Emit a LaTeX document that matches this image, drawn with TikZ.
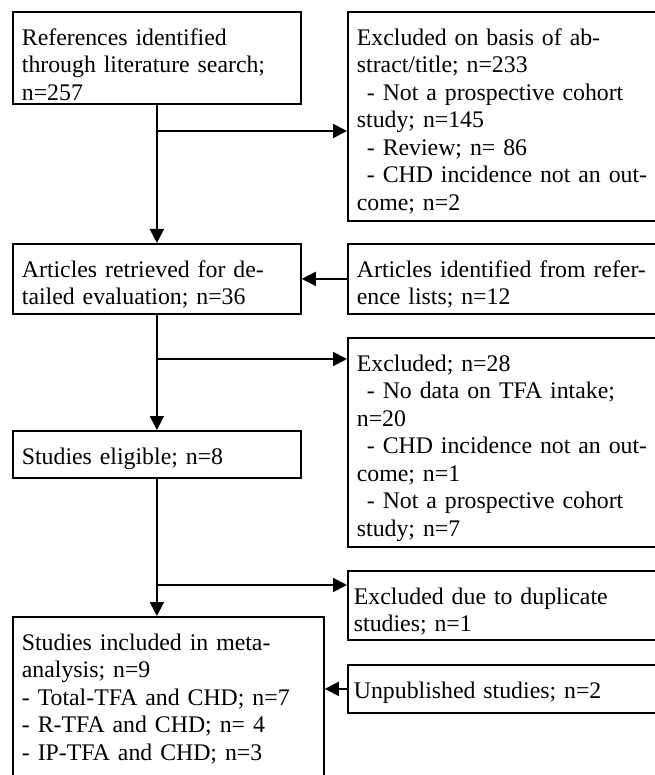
\documentclass[tikz,border=0pt]{standalone}
\usepackage{fontspec}
\setmainfont{Liberation Serif}
\usepackage{tikz}
\usetikzlibrary{arrows.meta,positioning,calc}

\begin{document}
\begin{tikzpicture}[
  x=1pt, y=-1pt,
  box/.style={draw,line width=1.8pt,anchor=north west,align=left,
              inner xsep=9pt,inner ysep=0pt,text height=33.5pt,
              font=\fontsize{23.8}{27.5}\selectfont},
  arr/.style={line width=1.8pt,-{Triangle[length=14pt,width=14pt]}},
  ln/.style={line width=1.8pt}
]
\useasboundingbox (0,0) rectangle (654,775);

%% ── Left column: main flow ───────────────────────────────────────────────────
\node[box,text width=270pt,text depth=58.5pt]  (ref)  at (12,11)
  {References identified\\through literature search;\\n=257};
\node[box,text width=270pt,text depth=36.5pt]  (art)  at (12,243)
  {Articles retrieved for de-\\tailed evaluation; n=36};
\node[box,text width=270pt,text depth=13.5pt]  (elig) at (12,430)
  {Studies eligible; n=8};
\node[box,text width=293pt,text depth=141.5pt] (incl) at (12,616)
  {Studies included in meta-\\analysis; n=9\\- Total-TFA and CHD; n=7\\
   - R-TFA and CHD; n= 4\\- IP-TFA and CHD; n=3};

%% ── Right column: side boxes ─────────────────────────────────────────────────
\node[box,text width=299pt,text depth=175.5pt] (exab) at (347,11)
  {Excluded on basis of ab-\\stract/title; n=233\\
   \hspace*{10pt}- Not a prospective cohort\\study; n=145\\
   \hspace*{10pt}- Review; n= 86\\
   \hspace*{10pt}- CHD incidence not an out-\\come; n=2};
\node[box,text width=299pt,text depth=36.5pt]  (lst)  at (347,243)
  {Articles identified from refer-\\ence lists; n=12};
\node[box,text width=299pt,text depth=175.5pt] (exdt) at (347,337)
  {Excluded; n=28\\
   \hspace*{10pt}- No data on TFA intake;\\n=20\\
   \hspace*{10pt}- CHD incidence not an out-\\come; n=1\\
   \hspace*{10pt}- Not a prospective cohort\\study; n=7};
\node[box,inner xsep=6pt,text width=305pt,text depth=35.5pt] (exdup) at (347,570)
  {Excluded due to duplicate\\studies; n=1};
\node[box,inner xsep=6pt,text width=305pt,text depth=14.5pt] (unpub) at (347,664)
  {Unpublished studies; n=2};

%% ── Branch points on the trunk ───────────────────────────────────────────────
\coordinate (b1) at (156,131);
\coordinate (b2) at (156,359);
\coordinate (b3) at (156,585);

%% ── Trunk arrows ─────────────────────────────────────────────────────────────
\draw[arr] (ref.south)  -- (art.north);
\draw[arr] (art.south)  -- (elig.north);
\draw[arr] (elig.south) -- (elig.south |- incl.north);

%% ── Exclusions branch off to the right ───────────────────────────────────────
\draw[arr] (b1) -- (b1 -| exab.west);
\draw[arr] (b2) -- (b2 -| exdt.west);
\draw[arr] (b3) -- (b3 -| exdup.west);

%% ── Additions come in from the right ─────────────────────────────────────────
\draw[arr] (lst.west)   -- (art.east);
\draw[arr] (unpub.west) -- (unpub.west -| incl.east);
\end{tikzpicture}
\end{document}
